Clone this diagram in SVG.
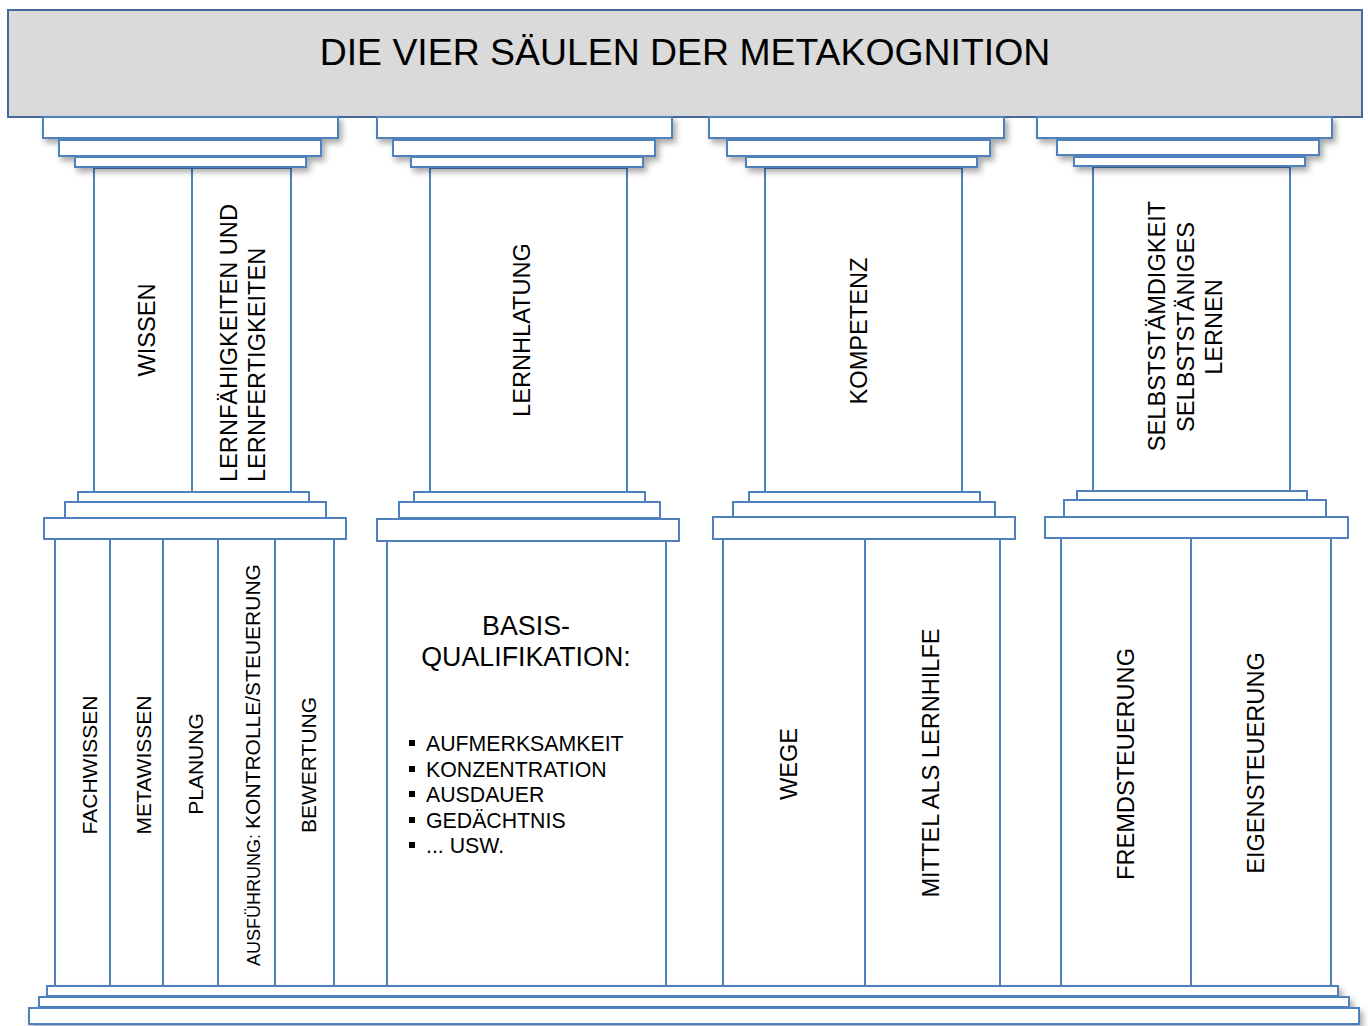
<svg xmlns="http://www.w3.org/2000/svg" width="1368" height="1026" viewBox="0 0 1368 1026">
<defs>
<filter id="sh" x="-10%" y="-50%" width="130%" height="250%">
<feDropShadow dx="3" dy="4" stdDeviation="3" flood-color="#000" flood-opacity="0.35"/>
</filter>
<style>
.s{fill:#fff;stroke:#4f81bd;stroke-width:2}
.ti{fill:#dadada;stroke:#43699f;stroke-width:2}
text{font-family:"Liberation Sans",Arial,Helvetica,sans-serif;fill:#000}
.v{font-size:23.6px}
.w{font-size:21px}
.m{text-anchor:middle}
</style>
</defs>
<rect width="1368" height="1026" fill="#fff"/>

<g id="title">
<rect class="ti" x="8" y="10" width="1354" height="107"/>
<text class="m" x="685" y="65" font-size="37.4">DIE VIER SÄULEN DER METAKOGNITION</text>
</g>

<g id="pillar1">
<rect class="s" x="94" y="168" width="98" height="324"/>
<rect class="s" x="192" y="168" width="99" height="324"/>
<g filter="url(#sh)">
<rect class="s" x="43" y="117" width="295" height="21"/>
<rect class="s" x="59" y="140" width="262" height="16"/>
<rect class="s" x="75" y="157" width="231" height="10"/>
</g>
<text class="v m" transform="translate(155,330) rotate(-90)">WISSEN</text>
<text class="v" transform="translate(237,482) rotate(-90)">LERNFÄHIGKEITEN UND</text>
<text class="v" transform="translate(265,482) rotate(-90)">LERNFERTIGKEITEN</text>
<rect class="s" x="55" y="539" width="55" height="447"/>
<rect class="s" x="110" y="539" width="53" height="447"/>
<rect class="s" x="163" y="539" width="55" height="447"/>
<rect class="s" x="218" y="539" width="57" height="447"/>
<rect class="s" x="275" y="539" width="59" height="447"/>
<rect class="s" x="78" y="492" width="231" height="10"/>
<rect class="s" x="65" y="502" width="261" height="16"/>
<rect class="s" x="44" y="518" width="302" height="21"/>
<text class="w m" transform="translate(97,765) rotate(-90)">FACHWISSEN</text>
<text class="w m" transform="translate(151,765) rotate(-90)">METAWISSEN</text>
<text class="w m" transform="translate(203,764) rotate(-90)">PLANUNG</text>
<text class="w m" transform="translate(260,765) rotate(-90)"><tspan font-size="18">AUSFÜHRUNG: </tspan>KONTROLLE/STEUERUNG</text>
<text class="w m" transform="translate(316,765) rotate(-90)">BEWERTUNG</text>
</g>

<g id="pillar2">
<rect class="s" x="430" y="168" width="197" height="324"/>
<g filter="url(#sh)">
<rect class="s" x="377" y="117" width="295" height="21"/>
<rect class="s" x="393" y="140" width="262" height="16"/>
<rect class="s" x="411" y="157" width="232" height="10"/>
</g>
<text class="v m" transform="translate(530,330) rotate(-90)">LERNHLATUNG</text>
<rect class="s" x="387" y="541" width="279" height="445"/>
<rect class="s" x="414" y="492" width="231" height="10"/>
<rect class="s" x="399" y="502" width="261" height="16"/>
<rect class="s" x="377" y="519" width="302" height="22"/>
<text class="m" x="526" y="635" font-size="26.8">BASIS-</text>
<text class="m" x="526" y="666" font-size="26.8">QUALIFIKATION:</text>
<g font-size="21.3">
<rect x="409" y="740" width="6" height="6"/><text x="426" y="751">AUFMERKSAMKEIT</text>
<rect x="409" y="766" width="6" height="6"/><text x="426" y="777">KONZENTRATION</text>
<rect x="409" y="791" width="6" height="6"/><text x="426" y="802">AUSDAUER</text>
<rect x="409" y="817" width="6" height="6"/><text x="426" y="828">GEDÄCHTNIS</text>
<rect x="409" y="842" width="6" height="6"/><text x="426" y="853">... USW.</text>
</g>
</g>

<g id="pillar3">
<rect class="s" x="765" y="168" width="197" height="324"/>
<g filter="url(#sh)">
<rect class="s" x="709" y="117" width="295" height="21"/>
<rect class="s" x="727" y="140" width="263" height="16"/>
<rect class="s" x="746" y="157" width="231" height="10"/>
</g>
<text class="v m" transform="translate(867,331) rotate(-90)">KOMPETENZ</text>
<rect class="s" x="723" y="539" width="142" height="447"/>
<rect class="s" x="865" y="539" width="135" height="447"/>
<rect class="s" x="749" y="492" width="231" height="10"/>
<rect class="s" x="733" y="502" width="262" height="15"/>
<rect class="s" x="713" y="517" width="302" height="22"/>
<text class="v m" transform="translate(797,764) rotate(-90)">WEGE</text>
<text class="v m" transform="translate(939,763) rotate(-90)">MITTEL ALS LERNHILFE</text>
</g>

<g id="pillar4">
<rect class="s" x="1093" y="167" width="197" height="324"/>
<g filter="url(#sh)">
<rect class="s" x="1037" y="117" width="295" height="21"/>
<rect class="s" x="1057" y="140" width="262" height="15"/>
<rect class="s" x="1074" y="157" width="231" height="9"/>
</g>
<text class="v m" transform="translate(1165,326) rotate(-90)">SELBSTSTÄMDIGKEIT</text>
<text class="v m" transform="translate(1194,327) rotate(-90)">SELBSTSTÄNIGES</text>
<text class="v m" transform="translate(1222,327) rotate(-90)">LERNEN</text>
<rect class="s" x="1061" y="538" width="130" height="448"/>
<rect class="s" x="1191" y="538" width="140" height="448"/>
<rect class="s" x="1077" y="491" width="230" height="9"/>
<rect class="s" x="1064" y="500" width="262" height="17"/>
<rect class="s" x="1045" y="517" width="303" height="21"/>
<text class="v m" transform="translate(1134,764) rotate(-90)">FREMDSTEUERUNG</text>
<text class="v m" transform="translate(1264,763) rotate(-90)">EIGENSTEUERUNG</text>
</g>

<g id="foundation" filter="url(#sh)">
<rect class="s" x="47" y="986" width="1291" height="10"/>
<rect class="s" x="39" y="997" width="1310" height="10"/>
<rect class="s" x="29" y="1008" width="1330" height="16"/>
</g>

<g id="connectors"/>
</svg>
